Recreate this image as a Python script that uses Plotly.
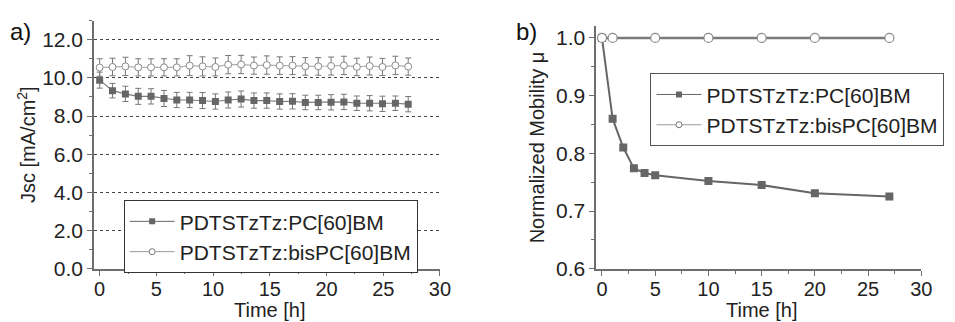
import plotly.graph_objects as go

# ---- Panel a data ----
time_a = [0, 1.13, 2.27, 3.4, 4.53, 5.67, 6.8, 7.93, 9.07, 10.2, 11.33, 12.47, 13.6,
          14.73, 15.87, 17.0, 18.13, 19.27, 20.4, 21.53, 22.67, 23.8, 24.93, 26.07, 27.2]
jsc_pc = [9.88, 9.33, 9.16, 9.03, 9.03, 8.92, 8.84, 8.84, 8.81, 8.76, 8.84, 8.89, 8.81,
          8.81, 8.76, 8.77, 8.71, 8.71, 8.72, 8.74, 8.67, 8.67, 8.64, 8.67, 8.62]
jsc_pc_err = [0.42, 0.38, 0.4, 0.42, 0.4, 0.42, 0.4, 0.4, 0.42, 0.4, 0.42, 0.42, 0.4,
              0.4, 0.4, 0.4, 0.38, 0.38, 0.4, 0.4, 0.38, 0.4, 0.4, 0.38, 0.4]
jsc_bis = [10.54, 10.57, 10.6, 10.55, 10.55, 10.55, 10.55, 10.64, 10.6, 10.57, 10.69, 10.7, 10.64,
           10.67, 10.64, 10.64, 10.6, 10.6, 10.62, 10.65, 10.57, 10.62, 10.57, 10.65, 10.59]
jsc_bis_err = [0.46, 0.46, 0.48, 0.45, 0.45, 0.45, 0.45, 0.52, 0.5, 0.47, 0.48, 0.48, 0.45,
               0.48, 0.46, 0.47, 0.46, 0.46, 0.47, 0.48, 0.46, 0.47, 0.45, 0.48, 0.45]

# ---- Panel b data ----
time_b_pc = [0, 1, 2, 3, 4, 5, 10, 15, 20, 27]
mob_pc = [1.0, 0.86, 0.81, 0.774, 0.766, 0.762, 0.752, 0.745, 0.731, 0.725]
time_b_bis = [0, 1, 5, 10, 15, 20, 27]
mob_bis = [1.0, 1.0, 1.0, 1.0, 1.0, 1.0, 1.0]

label_pc = "PDTSTzTz:PC[60]BM"
label_bis = "PDTSTzTz:bisPC[60]BM"
x_title = "Time [h]"

FONT = "Liberation Sans"
DARK = "#666666"
AXC = "#6e6e6e"

fig = go.Figure()

# ---- data traces (legend handled by legend-only entries below) ----
fig.add_trace(go.Scatter(
    x=time_a, y=jsc_pc, name=label_pc, mode="lines+markers", showlegend=False,
    line=dict(color="#7a7a7a", width=1.2),
    marker=dict(symbol="square", size=7, color=DARK, line=dict(width=0)),
    error_y=dict(type="data", array=jsc_pc_err, color="#777777", thickness=1, width=3),
    xaxis="x", yaxis="y"))
fig.add_trace(go.Scatter(
    x=time_a, y=jsc_bis, name=label_bis, mode="lines+markers", showlegend=False,
    line=dict(color="#b0b0b0", width=1.2),
    marker=dict(symbol="circle", size=7, color="white", line=dict(width=1, color="#8a8a8a")),
    error_y=dict(type="data", array=jsc_bis_err, color="#777777", thickness=1, width=3),
    xaxis="x", yaxis="y"))
fig.add_trace(go.Scatter(
    x=time_b_pc, y=mob_pc, name=label_pc, mode="lines+markers", showlegend=False,
    line=dict(color=DARK, width=2),
    marker=dict(symbol="square", size=8, color=DARK, line=dict(width=0)),
    xaxis="x2", yaxis="y2"))
fig.add_trace(go.Scatter(
    x=time_b_bis, y=mob_bis, name=label_bis, mode="lines+markers", showlegend=False,
    line=dict(color="#7a7a7a", width=2.5),
    marker=dict(symbol="circle", size=9, color="white", line=dict(width=1.2, color="#8a8a8a")),
    xaxis="x2", yaxis="y2"))

# ---- legend entries (thin lines, small markers as in the reference) ----
for leg, xa, ya in (("legend", "x", "y"), ("legend2", "x2", "y2")):
    fig.add_trace(go.Scatter(
        x=[None], y=[None], name=label_pc, mode="lines+markers", legend=leg,
        line=dict(color="#666666", width=1),
        marker=dict(symbol="square", size=6, color=DARK, line=dict(width=0)),
        xaxis=xa, yaxis=ya))
    fig.add_trace(go.Scatter(
        x=[None], y=[None], name=label_bis, mode="lines+markers", legend=leg,
        line=dict(color="#9a9a9a", width=1),
        marker=dict(symbol="circle", size=6, color="white", line=dict(width=1, color="#777777")),
        xaxis=xa, yaxis=ya))

tickfont = dict(family=FONT, size=21, color="#222222")
xtickfont = dict(family=FONT, size=20, color="#222222")
titlefont = dict(family=FONT, size=20, color="#222222")

common = dict(showline=True, linecolor=AXC, linewidth=1.5, ticks="outside",
              tickcolor=AXC, ticklen=5, tickwidth=1.2,
              zeroline=False, mirror=False)

legend_common = dict(xanchor="left", yanchor="top", bgcolor="white", borderwidth=1,
                     font=dict(family=FONT, size=21, color="#222222"),
                     itemwidth=45, tracegroupgap=0)

fig.update_layout(
    width=955, height=322,
    margin=dict(l=0, r=0, t=0, b=0),
    paper_bgcolor="white", plot_bgcolor="white",
    font=dict(family=FONT, color="#222222"),
    xaxis=dict(domain=[0.0911, 0.4576], range=[-0.5, 30], dtick=5, tick0=0,
               showgrid=False, anchor="y", tickfont=xtickfont, ticklabelstandoff=-4,
               minor=dict(dtick=2.5, tick0=0, ticks="outside", ticklen=3, tickcolor=AXC, showgrid=False),
               **common),
    yaxis=dict(domain=[0.1615, 0.9596], range=[0, 13], dtick=2, tick0=0, tickformat=".1f",
               tickfont=tickfont,
               title=dict(text="Jsc [mA/cm<sup>2</sup>]", font=titlefont, standoff=1),
               showgrid=True, gridcolor="#444444", gridwidth=1, griddash="dot", anchor="x",
               minor=dict(dtick=1, tick0=0, ticks="outside", ticklen=3, tickcolor=AXC, showgrid=False),
               **common),
    xaxis2=dict(domain=[0.623, 0.9675], range=[-0.55, 30], dtick=5, tick0=0,
                showgrid=False, anchor="y2", tickfont=xtickfont, ticklabelstandoff=-4,
                minor=dict(dtick=2.5, tick0=0, ticks="outside", ticklen=3, tickcolor=AXC, showgrid=False),
                **common),
    yaxis2=dict(domain=[0.1615, 0.941], range=[0.6, 1.02], dtick=0.1, tick0=0.6, tickformat=".1f",
                tickfont=tickfont,
                title=dict(text="Normalized Mobility \u03bc", font=titlefont, standoff=6),
                showgrid=False, anchor="x2",
                minor=dict(dtick=0.05, tick0=0.6, ticks="outside", ticklen=3, tickcolor=AXC, showgrid=False),
                **common),
    legend=dict(x=0.1225, y=0.382, bordercolor="#333333", **legend_common),
    legend2=dict(x=0.6806, y=0.79, bordercolor="#555555", **legend_common),
    annotations=[
        dict(text="a)", x=0.0, y=0.925, xref="paper", yref="paper", xanchor="left",
             yanchor="middle", showarrow=False, font=dict(family=FONT, size=24, color="#111111")),
        dict(text="b)", x=0.536, y=0.925, xref="paper", yref="paper", xanchor="left",
             yanchor="middle", showarrow=False, font=dict(family=FONT, size=24, color="#111111")),
        dict(text=x_title, x=15, xref="x", y=0.03, yref="paper", xanchor="center",
             yanchor="middle", showarrow=False, font=titlefont),
        dict(text=x_title, x=15, xref="x2", y=0.03, yref="paper", xanchor="center",
             yanchor="middle", showarrow=False, font=titlefont),
    ],
    showlegend=True,
)

fig.write_html("out.html")
